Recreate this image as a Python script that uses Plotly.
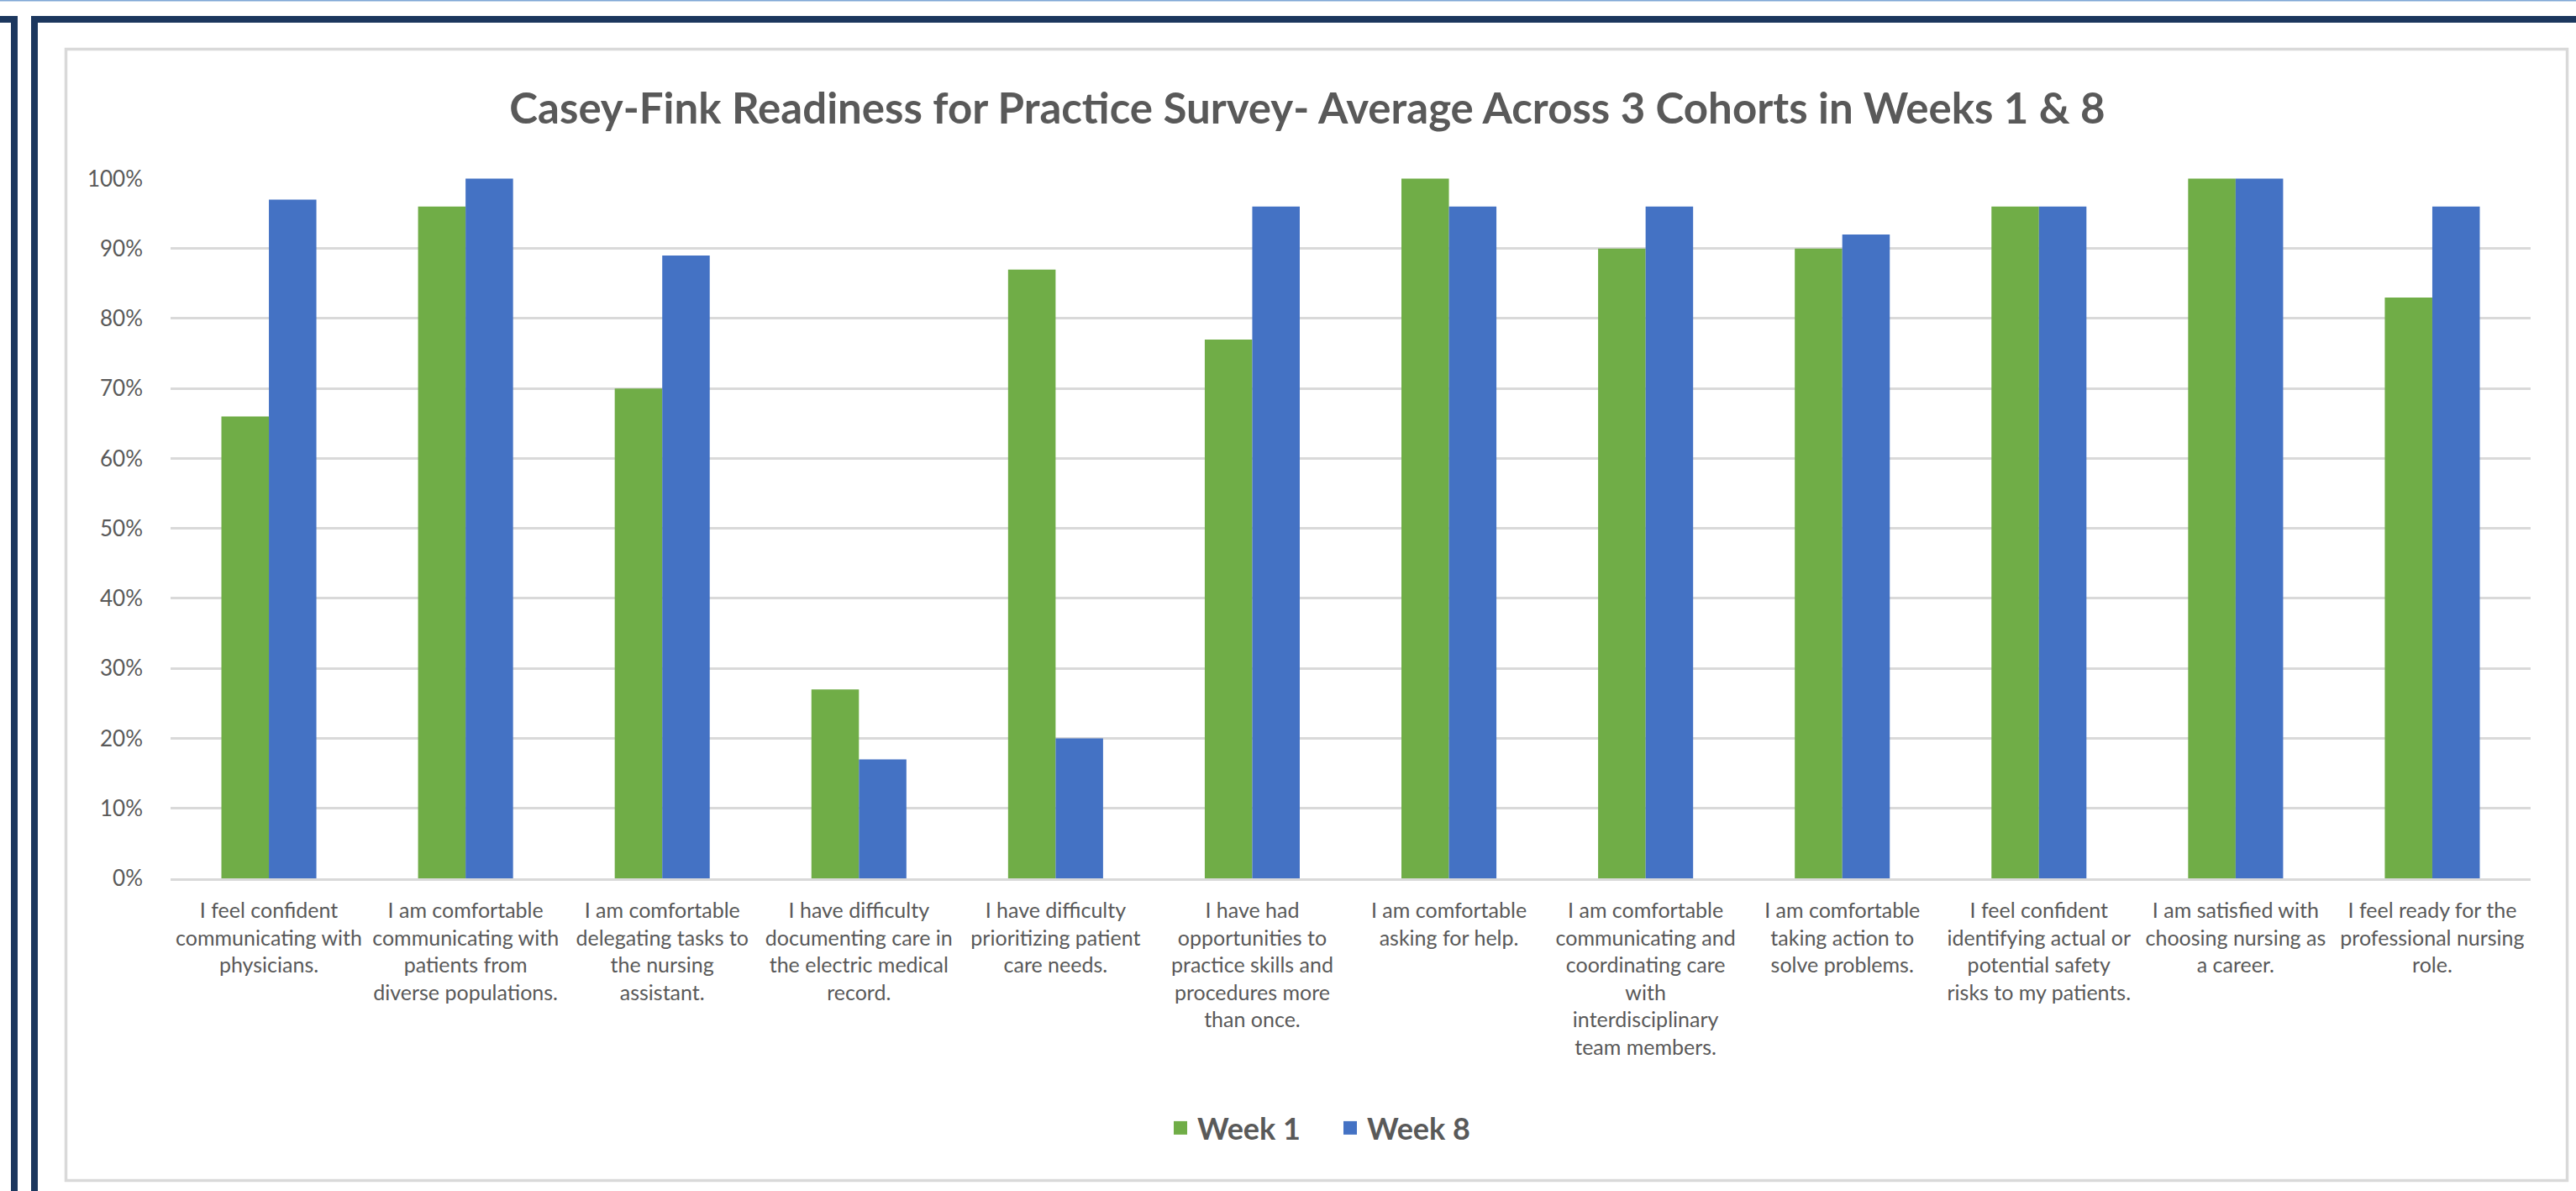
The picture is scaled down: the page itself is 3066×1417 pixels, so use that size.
import plotly.graph_objects as go

categories = [
    "I feel confident<br>communicating with<br>physicians.",
    "I am comfortable<br>communicating with<br>patients from<br>diverse populations.",
    "I am comfortable<br>delegating tasks to<br>the nursing<br>assistant.",
    "I have difficulty<br>documenting care in<br>the electric medical<br>record.",
    "I have difficulty<br>prioritizing patient<br>care needs.",
    "I have had<br>opportunities to<br>practice skills and<br>procedures more<br>than once.",
    "I am comfortable<br>asking for help.",
    "I am comfortable<br>communicating and<br>coordinating care<br>with<br>interdisciplinary<br>team members.",
    "I am comfortable<br>taking action to<br>solve problems.",
    "I feel confident<br>identifying actual or<br>potential safety<br>risks to my patients.",
    "I am satisfied with<br>choosing nursing as<br>a career.",
    "I feel ready for the<br>professional nursing<br>role.",
]
week1 = [0.66, 0.96, 0.70, 0.27, 0.87, 0.77, 1.00, 0.90, 0.90, 0.96, 1.00, 0.83]
week8 = [0.97, 1.00, 0.89, 0.17, 0.20, 0.96, 0.96, 0.96, 0.92, 0.96, 1.00, 0.96]
series_names = ["Week 1", "Week 8"]
title_text = "Casey-Fink Readiness for Practice Survey- Average Across 3 Cohorts in Weeks 1 & 8"

GREEN = "#70AD47"
BLUE = "#4472C4"
TEXT = "#595959"
GRID = "#D9D9D9"
NAVY = "#1C375E"
FONT = "Lato"

W, H = 3066, 1417
L, R, T, B = 203, 3012, 212, 1045  # plot area in pixels

def fx(px):
    return (px - L) / (R - L)

def fy(py):
    return (B - py) / (B - T)

fig = go.Figure()
fig.add_trace(go.Bar(x=categories, y=week1, name=series_names[0],
                     marker=dict(color=GREEN, line=dict(width=0)), showlegend=False))
fig.add_trace(go.Bar(x=categories, y=week8, name=series_names[1],
                     marker=dict(color=BLUE, line=dict(width=0)), showlegend=False))
# legend entries
for nm, col in zip(series_names, [GREEN, BLUE]):
    fig.add_trace(go.Scatter(x=[None], y=[None], mode="markers", name=nm,
                             marker=dict(symbol="square", size=22, color=col)))

shapes = [
    dict(type="line", xref="paper", yref="paper", x0=fx(-10), x1=fx(W + 10),
         y0=fy(0.5), y1=fy(0.5), line=dict(color="#7FA7D6", width=2)),
    dict(type="rect", xref="paper", yref="paper", x0=fx(-40), x1=fx(17),
         y0=fy(23), y1=fy(H + 40), line=dict(color=NAVY, width=8)),
    dict(type="rect", xref="paper", yref="paper", x0=fx(41), x1=fx(W + 40),
         y0=fy(23), y1=fy(H + 40), line=dict(color=NAVY, width=8)),
    dict(type="rect", xref="paper", yref="paper", x0=fx(78.5), x1=fx(3055.5),
         y0=fy(58.5), y1=fy(1404.5), line=dict(color=GRID, width=3.5)),
]

fig.update_layout(
    width=W, height=H,
    margin=dict(l=L, r=W - R, t=T, b=H - B, pad=0, autoexpand=False),
    paper_bgcolor="white", plot_bgcolor="white",
    barmode="group", bargap=0.517, bargroupgap=0,
    font=dict(family=FONT, color=TEXT, size=25),
    title=dict(text="<b>" + title_text + "</b>", x=1556 / W, xanchor="center",
               y=1 - 129 / H, yanchor="middle", xref="container", yref="container",
               font=dict(family=FONT, size=51, color=TEXT)),
    showlegend=True,
    legend=dict(orientation="h", x=fx(1587), y=fy(1342), xanchor="center", yanchor="middle",
                font=dict(family=FONT, size=36, color=TEXT, weight="bold"),
                itemsizing="trace", bgcolor="rgba(0,0,0,0)", entrywidth=157,
                entrywidthmode="pixels", tracegroupgap=0),
    shapes=shapes,
)
fig.update_xaxes(showline=True, linecolor=GRID, linewidth=3, showgrid=False,
                 ticks="", tickfont=dict(size=25, color=TEXT, family=FONT),
                 ticklabelstandoff=14, tickangle=0)
fig.update_yaxes(range=[0, 1.0005], dtick=0.1, tick0=0, tickformat=".0%",
                 showgrid=True, gridcolor=GRID, gridwidth=3, zeroline=False,
                 showline=False, ticks="", tickfont=dict(size=26, color=TEXT, family=FONT),
                 ticklabelstandoff=32)

fig.write_html("out.html")
